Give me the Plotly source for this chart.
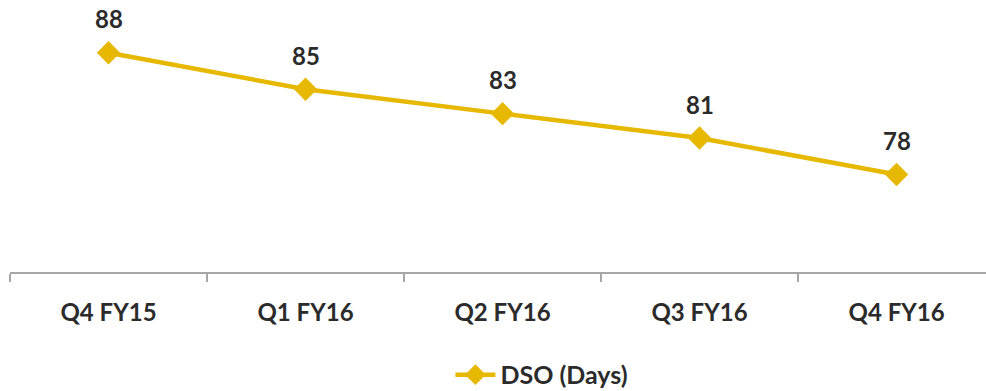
import plotly.graph_objects as go

categories = ["Q4 FY15", "Q1 FY16", "Q2 FY16", "Q3 FY16", "Q4 FY16"]
dso_days = [88, 85, 83, 81, 78]
series_name = "DSO (Days)"

color = "#E6B800"
text_color = "#2B2B2B"
font_family = "Lato, 'Open Sans', sans-serif"

fig = go.Figure()
fig.add_trace(go.Scatter(
    x=categories, y=dso_days, name=f"<b>{series_name}</b>",
    mode="lines+markers",
    line=dict(color=color, width=4.5),
    marker=dict(symbol="diamond", size=18, color=color),
    cliponaxis=False,
))

for c, v in zip(categories, dso_days):
    fig.add_annotation(x=c, y=v, text=f"<b>{v}</b>", showarrow=False,
                       yshift=34, font=dict(size=24, color=text_color, family=font_family))

fig.update_layout(
    width=986, height=391,
    margin=dict(l=10, r=0, t=4, b=119, autoexpand=False),
    paper_bgcolor="white", plot_bgcolor="white",
    showlegend=True,
    legend=dict(orientation="h", x=0.545, xanchor="center",
                yref="container", y=0.041, yanchor="middle",
                font=dict(size=25, color=text_color, family=font_family),
                itemwidth=40),
    font=dict(family=font_family, color=text_color),
)
fig.update_xaxes(
    type="category", range=[-0.5, 4.454],
    showline=True, linecolor="#A6A6A6", linewidth=2,
    ticks="outside", tickson="boundaries", ticklen=8, tickcolor="#A6A6A6", tickwidth=2,
    showgrid=False, zeroline=False, automargin=False,
    ticklabelstandoff=18,
    tickfont=dict(size=24, color=text_color, family=font_family),
    tickvals=categories, ticktext=[f"<b>{c}</b>" for c in categories],
)
fig.update_yaxes(range=[70, 92], visible=False, showgrid=False, zeroline=False)

fig.write_html("out.html")
